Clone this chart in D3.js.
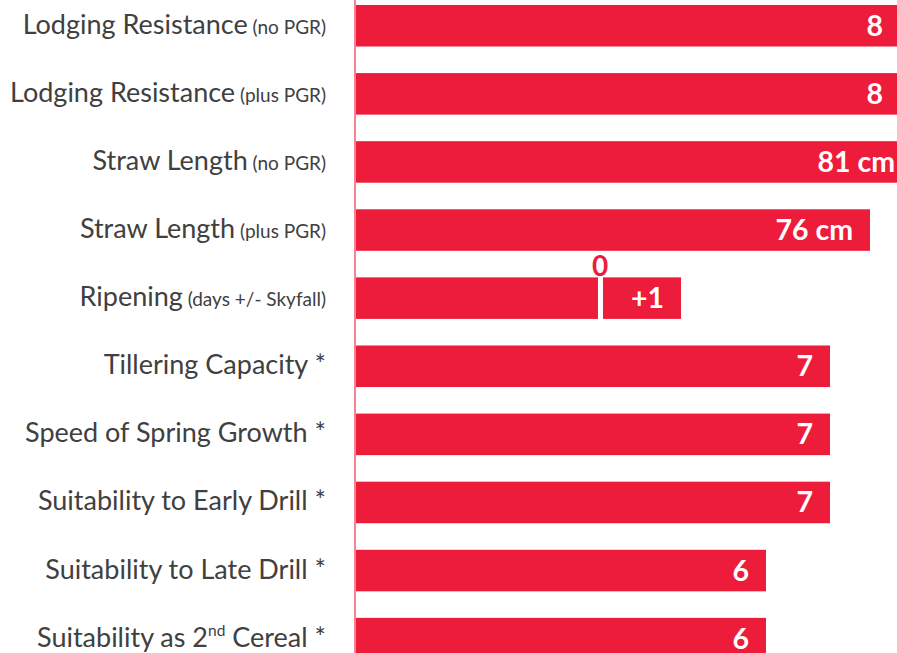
<!DOCTYPE html>
<html>
<head>
<meta charset="utf-8">
<script src="https://cdn.jsdelivr.net/npm/d3@7"></script>
<style>
body{margin:0;background:#fff;overflow:hidden;}
.cat{font-family:Lato,"Open Sans",sans-serif;fill:#404040;}
.val{font-family:Lato,"Open Sans",sans-serif;font-weight:bold;}
</style>
</head>
<body>
<script>
var width = 897, height = 653;

var categories = ["Lodging Resistance","Lodging Resistance","Straw Length","Straw Length","Ripening",
	"Tillering Capacity *","Speed of Spring Growth *","Suitability to Early Drill *","Suitability to Late Drill *","Suitability as 2"];
var subLabels = ["(no PGR)","(plus PGR)","(no PGR)","(plus PGR)","(days +/- Skyfall)","","","","",""];
var values = [8, 8, 81, 76, 1, 7, 7, 7, 6, 6];
var units = ["score","score","cm","cm","days","score","score","score","score","score"];
var valueLabels = ["8","8","81 cm","76 cm","+1","7","7","7","6","6"];
var ripeningRef = 0;

var red = "#ee1c3b";
var axisX = 356;

var svg = d3.select("body").append("svg")
	.attr("width", width)
	.attr("height", height);

var y = d3.scaleBand()
	.domain(d3.range(categories.length))
	.range([-8.3, 672.7])
	.paddingInner(0.39)
	.paddingOuter(0.195);

// one scale per unit
var scoreX = d3.scaleLinear().domain([6, 7, 8]).range([766, 830, 900]);
var cmX = d3.scaleLinear().domain([76, 81]).range([870, 912]);
var daysX = d3.scaleLinear().domain([0, 1]).range([600, 681]);

function xFor(i){
	if(units[i]=="cm") return cmX(values[i]);
	if(units[i]=="days") return daysX(values[i]);
	return scoreX(values[i]);
}

svg.append("line")
	.attr("x1", axisX - 1).attr("x2", axisX - 1)
	.attr("y1", 0).attr("y2", height)
	.attr("stroke", red).attr("stroke-opacity", 0.55)
	.attr("stroke-width", 2);

var rows = svg.append("g").selectAll("g")
	.data(d3.range(categories.length))
	.enter().append("g");

function barStart(i){ return units[i]=="days" ? daysX(ripeningRef) + 3 : axisX; }

// bars
rows.append("rect")
	.attr("x", barStart)
	.attr("y", function(i){ return y(i); })
	.attr("width", function(i){ return xFor(i) - barStart(i); })
	.attr("height", y.bandwidth())
	.attr("fill", red);

// reference part of the ripening bar (Skyfall = 0)
var ri = units.indexOf("days");
svg.append("rect")
	.attr("x", axisX)
	.attr("y", y(ri))
	.attr("width", daysX(ripeningRef) - 2 - axisX)
	.attr("height", y.bandwidth())
	.attr("fill", red);

svg.append("text")
	.attr("class", "val")
	.attr("x", daysX(ripeningRef))
	.attr("y", y(ri) - 1)
	.attr("text-anchor", "middle")
	.attr("font-size", 28)
	.attr("fill", red)
	.text(String(ripeningRef));

// value labels
rows.append("text")
	.attr("class", "val")
	.attr("x", function(i){ return xFor(i) - 17; })
	.attr("y", function(i){ return y(i) + y.bandwidth()/2 + 10; })
	.attr("text-anchor", "end")
	.attr("font-size", 28.5)
	.attr("fill", "#fff")
	.text(function(i){ return valueLabels[i]; });

// category labels
var lab = rows.append("text")
	.attr("class", "cat")
	.attr("x", 326)
	.attr("y", function(i){ return y(i) + y.bandwidth()/2 + 8; })
	.attr("text-anchor", "end")
	.attr("font-size", 27);

lab.append("tspan").text(function(i){ return categories[i]; });
lab.filter(function(i){ return categories[i].slice(-1)=="2"; })
	.call(function(t){
		t.append("tspan").attr("font-size", 15.5).attr("dy", -11).text("nd");
		t.append("tspan").attr("dy", 11).text(" Cereal *");
	});
lab.filter(function(i){ return subLabels[i]; })
	.append("tspan")
	.attr("font-size", 19)
	.text(function(i){ return " " + subLabels[i]; });
</script>
</body>
</html>
